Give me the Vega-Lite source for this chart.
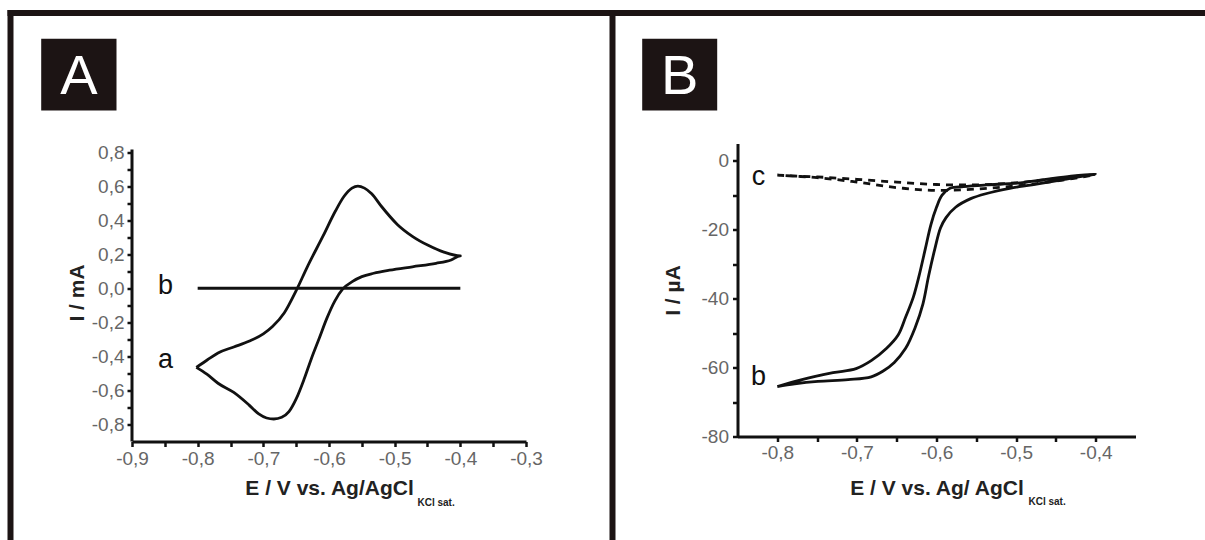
{
  "$schema": "https://vega.github.io/schema/vega-lite/v6.json",
  "background": "white",
  "padding": {"left": 7, "top": 9.5, "right": 0, "bottom": 0},
  "spacing": 211.5,
  "bounds": "flush",
  "datasets": {
    "frameA": [
      {"E": -1.08959, "E2": 0.73476, "I": 1.63396, "I2": 1.59872},
      {"E": -1.08959, "E2": -1.08046, "I": 1.63396, "I2": -1.48132},
      {"E": -0.17285, "E2": -0.16371, "I": 1.63396, "I2": -1.48132}
    ],
    "cvA": [
      {"series": "a", "i": 1, "E": -0.802, "I": -0.465},
      {"series": "a", "i": 2, "E": -0.785, "I": -0.42},
      {"series": "a", "i": 3, "E": -0.769, "I": -0.38},
      {"series": "a", "i": 4, "E": -0.745, "I": -0.345},
      {"series": "a", "i": 5, "E": -0.721, "I": -0.31},
      {"series": "a", "i": 6, "E": -0.700, "I": -0.268},
      {"series": "a", "i": 7, "E": -0.686, "I": -0.225},
      {"series": "a", "i": 8, "E": -0.668, "I": -0.144},
      {"series": "a", "i": 9, "E": -0.650, "I": -0.014},
      {"series": "a", "i": 10, "E": -0.633, "I": 0.126},
      {"series": "a", "i": 11, "E": -0.609, "I": 0.307},
      {"series": "a", "i": 12, "E": -0.590, "I": 0.455},
      {"series": "a", "i": 13, "E": -0.577, "I": 0.540},
      {"series": "a", "i": 14, "E": -0.565, "I": 0.588},
      {"series": "a", "i": 15, "E": -0.556, "I": 0.600},
      {"series": "a", "i": 16, "E": -0.546, "I": 0.588},
      {"series": "a", "i": 17, "E": -0.535, "I": 0.555},
      {"series": "a", "i": 18, "E": -0.520, "I": 0.480},
      {"series": "a", "i": 19, "E": -0.496, "I": 0.375},
      {"series": "a", "i": 20, "E": -0.473, "I": 0.305},
      {"series": "a", "i": 21, "E": -0.449, "I": 0.252},
      {"series": "a", "i": 22, "E": -0.425, "I": 0.212},
      {"series": "a", "i": 23, "E": -0.400, "I": 0.190},
      {"series": "a", "i": 24, "E": -0.414, "I": 0.166},
      {"series": "a", "i": 25, "E": -0.437, "I": 0.146},
      {"series": "a", "i": 26, "E": -0.473, "I": 0.126},
      {"series": "a", "i": 27, "E": -0.508, "I": 0.106},
      {"series": "a", "i": 28, "E": -0.532, "I": 0.088},
      {"series": "a", "i": 29, "E": -0.550, "I": 0.068},
      {"series": "a", "i": 30, "E": -0.564, "I": 0.040},
      {"series": "a", "i": 31, "E": -0.579, "I": -0.004},
      {"series": "a", "i": 32, "E": -0.591, "I": -0.074},
      {"series": "a", "i": 33, "E": -0.603, "I": -0.174},
      {"series": "a", "i": 34, "E": -0.615, "I": -0.295},
      {"series": "a", "i": 35, "E": -0.627, "I": -0.415},
      {"series": "a", "i": 36, "E": -0.638, "I": -0.535},
      {"series": "a", "i": 37, "E": -0.650, "I": -0.650},
      {"series": "a", "i": 38, "E": -0.661, "I": -0.725},
      {"series": "a", "i": 39, "E": -0.672, "I": -0.758},
      {"series": "a", "i": 40, "E": -0.684, "I": -0.768},
      {"series": "a", "i": 41, "E": -0.695, "I": -0.762},
      {"series": "a", "i": 42, "E": -0.707, "I": -0.738},
      {"series": "a", "i": 43, "E": -0.722, "I": -0.685},
      {"series": "a", "i": 44, "E": -0.745, "I": -0.612},
      {"series": "a", "i": 45, "E": -0.769, "I": -0.558},
      {"series": "a", "i": 46, "E": -0.786, "I": -0.505},
      {"series": "a", "i": 47, "E": -0.802, "I": -0.465},
      {"series": "b", "i": 1, "E": -0.8, "I": 0.0},
      {"series": "b", "i": 2, "E": -0.4, "I": 0.0}
    ],
    "cvBb": [
      {"i": 1, "E": -0.800, "I": -65.5},
      {"i": 2, "E": -0.769, "I": -63.5},
      {"i": 3, "E": -0.730, "I": -61.5},
      {"i": 4, "E": -0.701, "I": -60.3},
      {"i": 5, "E": -0.682, "I": -58},
      {"i": 6, "E": -0.663, "I": -54.5},
      {"i": 7, "E": -0.648, "I": -50.5},
      {"i": 8, "E": -0.639, "I": -45.5},
      {"i": 9, "E": -0.629, "I": -39.5},
      {"i": 10, "E": -0.622, "I": -33.5},
      {"i": 11, "E": -0.614, "I": -25.5},
      {"i": 12, "E": -0.607, "I": -18.5},
      {"i": 13, "E": -0.600, "I": -13.5},
      {"i": 14, "E": -0.593, "I": -10},
      {"i": 15, "E": -0.583, "I": -8},
      {"i": 16, "E": -0.566, "I": -7.5},
      {"i": 17, "E": -0.537, "I": -7},
      {"i": 18, "E": -0.499, "I": -6.5},
      {"i": 19, "E": -0.465, "I": -5.5},
      {"i": 20, "E": -0.431, "I": -4.5},
      {"i": 21, "E": -0.400, "I": -3.8},
      {"i": 22, "E": -0.441, "I": -5.5},
      {"i": 23, "E": -0.480, "I": -7},
      {"i": 24, "E": -0.508, "I": -8},
      {"i": 25, "E": -0.537, "I": -9.5},
      {"i": 26, "E": -0.557, "I": -11},
      {"i": 27, "E": -0.576, "I": -13.5},
      {"i": 28, "E": -0.588, "I": -16.5},
      {"i": 29, "E": -0.595, "I": -19.5},
      {"i": 30, "E": -0.602, "I": -25.5},
      {"i": 31, "E": -0.610, "I": -33.5},
      {"i": 32, "E": -0.617, "I": -41.5},
      {"i": 33, "E": -0.627, "I": -48.5},
      {"i": 34, "E": -0.639, "I": -54.5},
      {"i": 35, "E": -0.653, "I": -58.5},
      {"i": 36, "E": -0.667, "I": -61},
      {"i": 37, "E": -0.682, "I": -62.7},
      {"i": 38, "E": -0.711, "I": -63.5},
      {"i": 39, "E": -0.749, "I": -64},
      {"i": 40, "E": -0.778, "I": -64.7},
      {"i": 41, "E": -0.800, "I": -65.5}
    ],
    "cvBc": [
      {"i": 1, "E": -0.800, "I": -4.2},
      {"i": 2, "E": -0.750, "I": -4.7},
      {"i": 3, "E": -0.700, "I": -5.4},
      {"i": 4, "E": -0.650, "I": -6.2},
      {"i": 5, "E": -0.600, "I": -6.9},
      {"i": 6, "E": -0.550, "I": -7.0},
      {"i": 7, "E": -0.500, "I": -6.4},
      {"i": 8, "E": -0.450, "I": -5.2},
      {"i": 9, "E": -0.400, "I": -4.0},
      {"i": 10, "E": -0.450, "I": -5.9},
      {"i": 11, "E": -0.500, "I": -7.3},
      {"i": 12, "E": -0.550, "I": -8.2},
      {"i": 13, "E": -0.600, "I": -8.6},
      {"i": 14, "E": -0.650, "I": -7.8},
      {"i": 15, "E": -0.700, "I": -6.2},
      {"i": 16, "E": -0.750, "I": -4.9},
      {"i": 17, "E": -0.800, "I": -4.2}
    ]
  },
  "hconcat": [
    {
      "width": 394,
      "height": 298,
      "encoding": {
        "x": {
          "field": "E", "type": "quantitative",
          "scale": {"domain": [-0.9, -0.3], "nice": false, "zero": false},
          "axis": {
            "title": "E / V vs. Ag/AgCl",
            "values": [-0.9, -0.85, -0.8, -0.75, -0.7, -0.65, -0.6, -0.55, -0.5, -0.45, -0.4, -0.35, -0.3],
            "labelExpr": "round(datum.value*100) % 10 == 0 ? (datum.value < 0 ? '-' : '') + replace(format(abs(datum.value), '.1f'), '.', ',') : ''",
            "labelPadding": 3,
            "titlePadding": 9
          }
        },
        "y": {
          "field": "I", "type": "quantitative",
          "scale": {"domain": [-0.9, 0.85], "nice": false, "zero": false},
          "axis": {
            "title": "I / mA",
            "domain": false,
            "values": [-0.8, -0.7, -0.6, -0.5, -0.4, -0.3, -0.2, -0.1, 0, 0.1, 0.2, 0.3, 0.4, 0.5, 0.6, 0.7, 0.8],
            "labelExpr": "abs(round(datum.value*10)) % 2 == 0 ? (datum.value < 0 ? '-' : '') + replace(format(abs(datum.value), '.1f'), '.', ',') : ''",
            "labelPadding": 3,
            "titlePadding": 4
          }
        }
      },
      "layer": [
        {
          "data": {"name": "frameA"},
          "mark": {"type": "rect", "color": "#1c1414"},
          "encoding": {"x2": {"field": "E2"}, "y2": {"field": "I2"}}
        },
        {
          "data": {"values": [{"E": -1.03827, "E2": -0.9236, "I": 1.46483, "I2": 1.04379}]},
          "mark": {"type": "rect", "color": "#1c1414"},
          "encoding": {"x2": {"field": "E2"}, "y2": {"field": "I2"}}
        },
        {
          "data": {"values": [{"E": -0.98094, "I": 1.25431, "label": "A"}]},
          "mark": {"type": "text", "color": "white", "fontSize": 56, "font": "Liberation Sans", "align": "center", "baseline": "middle", "dy": 2},
          "encoding": {"text": {"field": "label"}}
        },
        {
          "data": {"values": [{"E": -0.9, "I": -0.9, "I2": 0.815}]},
          "mark": {"type": "rule", "color": "#111111", "strokeWidth": 3},
          "encoding": {"y2": {"field": "I2"}}
        },
        {
          "data": {"name": "cvA"},
          "mark": {"type": "line", "color": "#111111", "strokeWidth": 2.8, "strokeJoin": "round", "interpolate": "monotone"},
          "encoding": {"detail": {"field": "series"}, "order": {"field": "i", "type": "quantitative"}}
        },
        {
          "data": {"values": [{"E": -0.849, "I": -0.0309, "label": "b"}, {"E": -0.849, "I": -0.4713, "label": "a"}]},
          "mark": {"type": "text", "color": "#111111", "fontSize": 27, "font": "Liberation Sans", "align": "center", "baseline": "alphabetic"},
          "encoding": {"text": {"field": "label"}}
        },
        {
          "data": {"values": [{"E": -0.46523, "I": -1.2817, "label": "KCl sat."}]},
          "mark": {"type": "text", "color": "#222222", "fontSize": 10, "fontWeight": "bold", "font": "Liberation Sans", "align": "left", "baseline": "alphabetic"},
          "encoding": {"text": {"field": "label"}}
        }
      ]
    },
    {
      "width": 398,
      "height": 293,
      "encoding": {
        "x": {
          "field": "E", "type": "quantitative",
          "scale": {"domain": [-0.85, -0.35], "nice": false, "zero": false},
          "axis": {
            "title": "E / V vs. Ag/ AgCl",
            "values": [-0.8, -0.75, -0.7, -0.65, -0.6, -0.55, -0.5, -0.45, -0.4],
            "labelExpr": "round(datum.value*100) % 10 == 0 ? (datum.value < 0 ? '-' : '') + replace(format(abs(datum.value), '.1f'), '.', ',') : ''",
            "labelPadding": 2,
            "titlePadding": 15
          }
        },
        "y": {
          "field": "I", "type": "quantitative",
          "scale": {"domain": [-80, 5], "nice": false, "zero": false},
          "axis": {
            "title": "I / µA",
            "values": [-80, -70, -60, -50, -40, -30, -20, -10, 0],
            "labelExpr": "round(datum.value) % 20 == 0 ? (datum.value < 0 ? '-' : '') + format(abs(datum.value), 'd') : ''",
            "labelPadding": 4,
            "titlePadding": 18
          }
        }
      },
      "layer": [
        {
          "data": {"values": [{"E": -0.96972, "E2": -0.8755, "I": 35.373, "I2": 14.573}]},
          "mark": {"type": "rect", "color": "#1c1414"},
          "encoding": {"x2": {"field": "E2"}, "y2": {"field": "I2"}}
        },
        {
          "data": {"values": [{"E": -0.92261, "I": 24.973, "label": "B"}]},
          "mark": {"type": "text", "color": "white", "fontSize": 56, "font": "Liberation Sans", "align": "center", "baseline": "middle", "dy": 2},
          "encoding": {"text": {"field": "label"}}
        },
        {
          "data": {"name": "cvBc"},
          "mark": {"type": "line", "color": "#111111", "strokeWidth": 2.8, "strokeDash": [7, 6], "interpolate": "catmull-rom"},
          "encoding": {"order": {"field": "i", "type": "quantitative"}}
        },
        {
          "data": {"name": "cvBb"},
          "mark": {"type": "line", "color": "#111111", "strokeWidth": 2.8, "strokeJoin": "round", "interpolate": "catmull-rom"},
          "encoding": {"order": {"field": "i", "type": "quantitative"}}
        },
        {
          "data": {"values": [{"E": -0.82362, "I": -7.184, "label": "c"}, {"E": -0.82362, "I": -65.204, "label": "b"}]},
          "mark": {"type": "text", "color": "#111111", "fontSize": 27, "font": "Liberation Sans", "align": "center", "baseline": "alphabetic"},
          "encoding": {"text": {"field": "label"}}
        },
        {
          "data": {"values": [{"E": -0.48442, "I": -100.016, "label": "KCl sat."}]},
          "mark": {"type": "text", "color": "#222222", "fontSize": 10, "fontWeight": "bold", "font": "Liberation Sans", "align": "left", "baseline": "alphabetic"},
          "encoding": {"text": {"field": "label"}}
        }
      ]
    }
  ],
  "config": {
    "view": {"stroke": null},
    "font": "Liberation Sans",
    "axis": {
      "grid": false,
      "domainColor": "#111111",
      "domainWidth": 3,
      "tickColor": "#111111",
      "tickWidth": 2.5,
      "tickSize": 5,
      "labelFont": "Liberation Sans",
      "labelFontSize": 19,
      "labelColor": "#666666",
      "labelFlush": false,
      "labelOverlap": false,
      "titleFont": "Liberation Sans",
      "titleFontSize": 21,
      "titleFontWeight": "bold",
      "titleColor": "#222222"
    }
  }
}
